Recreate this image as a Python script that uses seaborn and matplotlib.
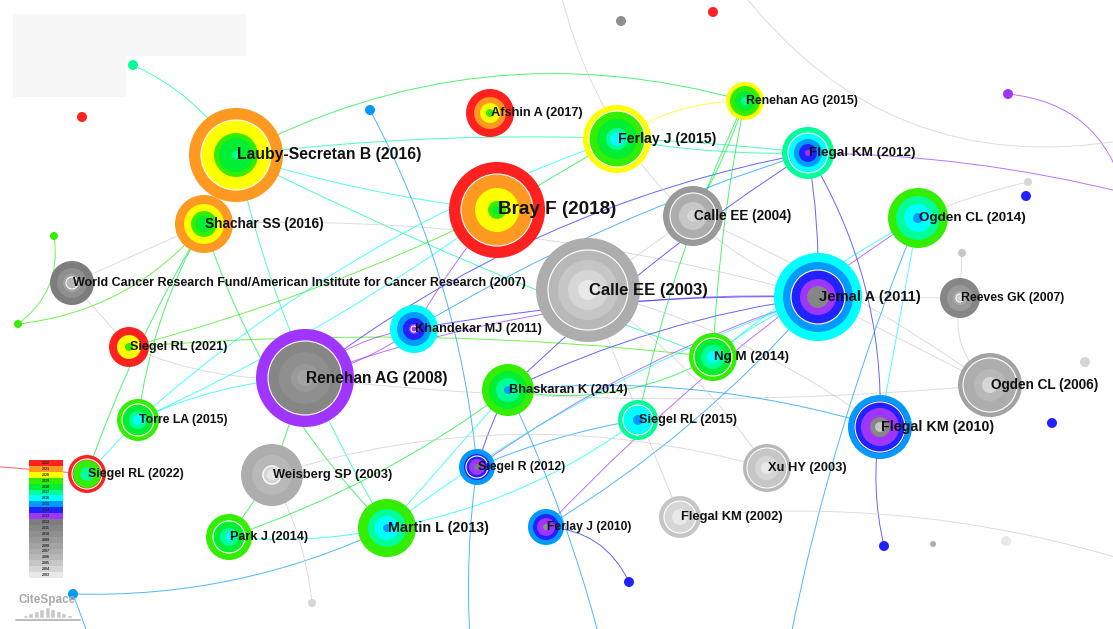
import numpy as np
import pandas as pd
import matplotlib.pyplot as plt
from matplotlib.colors import ListedColormap
from matplotlib.patches import Rectangle
import seaborn as sns

# ---- time slices (legend) ----
legend_years = list(range(2022, 2002, -1))
legend_colors = ['#ff2020', '#ff9922', '#ffff00', '#33ee00', '#00ee33', '#00ff99', '#00ffff',
                 '#0099ff', '#2222ff', '#a035ff',
                 '#7d7d7d', '#868686', '#8f8f8f', '#999999', '#a3a3a3', '#adadad', '#b8b8b8',
                 '#c6c6c6', '#d6d6d6', '#e8e8e8']
year_color = dict(zip(legend_years, legend_colors))

# ---- labelled references ----
labels = ['Lauby-Secretan B (2016)', 'Bray F (2018)', 'Calle EE (2003)', 'Renehan AG (2008)',
          'Jemal A (2011)', 'Flegal KM (2010)', 'Ogden CL (2006)', 'Reeves GK (2007)',
          'Ogden CL (2014)', 'Calle EE (2004)', 'Flegal KM (2012)', 'Renehan AG (2015)',
          'Ferlay J (2015)', 'Afshin A (2017)', 'Shachar SS (2016)',
          'World Cancer Research Fund/American Institute for Cancer Research (2007)',
          'Siegel RL (2021)', 'Khandekar MJ (2011)', 'Ng M (2014)', 'Bhaskaran K (2014)',
          'Siegel RL (2015)', 'Torre LA (2015)', 'Siegel RL (2022)', 'Weisberg SP (2003)',
          'Siegel R (2012)', 'Martin L (2013)', 'Park J (2014)', 'Ferlay J (2010)',
          'Xu HY (2003)', 'Flegal KM (2002)']
node_x = [236, 497, 588, 305, 818, 880, 990, 960, 918, 693, 808, 745, 617, 490, 204,
          72, 129, 414, 713, 508, 638, 138, 87, 272, 477, 387, 229, 546, 767, 680]
node_y = [155, 210, 290, 378, 297, 427, 385, 298, 218, 216, 153, 101, 139, 113, 224,
          283, 347, 329, 357, 390, 420, 420, 474, 475, 467, 528, 537, 527, 468, 517]
ring_years = [
    [2021, 2020, 2019, 2018, 2017], [2022, 2021, 2020, 2019, 2018],
    [2007, 2006, 2005, 2004, 2003], [2013, 2011, 2010, 2009, 2008],
    [2016, 2015, 2014, 2013, 2011], [2015, 2014, 2013, 2011, 2005],
    [2008, 2007, 2006, 2004], [2011, 2009, 2007, 2004],
    [2019, 2017, 2016, 2015], [2009, 2007, 2005, 2004],
    [2017, 2016, 2015, 2014, 2013], [2020, 2019, 2018, 2017],
    [2020, 2019, 2018, 2017, 2016], [2022, 2021, 2020, 2019],
    [2021, 2020, 2019, 2018], [2012, 2010, 2008, 2006],
    [2022, 2020, 2019], [2016, 2015, 2014, 2013],
    [2019, 2018, 2017, 2016], [2019, 2018, 2017, 2015],
    [2017, 2016, 2015], [2019, 2018, 2017, 2016],
    [2022, 2019, 2017], [2007, 2006, 2004, 2003],
    [2015, 2014, 2013, 2012], [2019, 2017, 2016, 2015],
    [2019, 2018, 2017, 2016], [2015, 2014, 2013, 2010],
    [2006, 2005, 2004, 2003], [2005, 2004, 2003]]
ring_radii = [
    [47, 35, 22, 17, 4], [48, 36, 22, 9, 4],
    [52, 40, 30, 20, 10], [49, 37, 26, 14, 8],
    [44, 35, 27, 18, 11], [32, 26, 19, 10, 5],
    [32, 27, 16, 8], [20, 13, 7, 3],
    [30, 22, 14, 5], [30, 23, 14, 6],
    [26, 20, 14, 9, 3], [19, 15, 10, 4],
    [34, 28, 20, 11, 7], [24, 16, 10, 4],
    [29, 20, 13, 8], [22, 15, 9, 5],
    [20, 12, 4], [24, 17, 11, 5],
    [24, 18, 12, 6], [26, 19, 12, 4],
    [20, 14, 5], [21, 15, 9, 5],
    [19, 14, 7], [31, 20, 10, 5],
    [18, 13, 8, 3], [29, 19, 12, 4],
    [23, 16, 9, 4], [18, 13, 9, 3],
    [24, 19, 12, 6], [21, 16, 8]]
white_ring = [35, 36, 40, 37, 27, 25, 27, 4, 0, 23, 20, 0, 28, 0, 0,
              6, 0, 3, 19, 0, 15, 16, 15, 9, 11, 0, 16, 0, 20, 16]
label_pt = [11.3, 13.6, 12.0, 11.2, 10.7, 10.3, 9.8, 8.8, 9.7, 9.8, 9.7, 8.8, 10.2, 9.2, 9.8,
            9.0, 9.1, 9.2, 9.6, 9.2, 9.2, 8.8, 8.9, 9.3, 8.8, 10.3, 9.1, 8.7, 9.3, 9.3]

# ---- unlabelled small references ----
dot_ids = ['d%d' % i for i in range(19)]
dot_x = [133, 82, 370, 621, 713, 1008, 1028, 1026, 962, 1085, 1052, 884, 933, 1006, 629, 54, 18, 312, 73]
dot_y = [65, 117, 110, 21, 12, 94, 182, 196, 253, 362, 423, 546, 544, 541, 582, 236, 324, 603, 594]
dot_year = [2017, 2022, 2015, 2010, 2022, 2013, 2004, 2014, 2005, 2004, 2014, 2014, 2007, 2003, 2014,
            2019, 2019, 2004, 2015]
dot_r = [5, 5, 5, 5, 5, 5, 4, 5, 4, 5, 5, 5, 3, 5, 5, 4, 4, 4, 5]

# link ends lying outside the visible window
off_ids = ['o%d' % i for i in range(12)]
off_x = [1125, 1125, 560, 740, 1125, -10, 90, 470, 600, 790, 1125, 1125]
off_y = [193, 195, -10, -10, 140, 466, 640, 640, 640, 640, 560, 470]

# ---- co-citation links: source, target, year, curvature ----
L = labels
links = [
    ('d0', L[0], 2017, -0.15), (L[0], L[11], 2018, -0.2), (L[0], L[10], 2017, -0.06),
    (L[0], L[1], 2016, 0.05), (L[0], L[18], 2017, 0.03), (L[0], L[25], 2017, 0.08),
    (L[14], L[15], 2009, 0.0), (L[14], 'd16', 2019, -0.2), ('d15', 'd16', 2019, -0.3),
    (L[14], L[21], 2018, 0.1), (L[14], L[22], 2018, 0.05), (L[14], L[25], 2018, 0.12),
    (L[14], L[4], 2009, -0.08), (L[15], L[16], 2009, 0.0), (L[16], L[3], 2009, 0.12),
    (L[16], L[18], 2019, -0.05), (L[3], L[17], 2013, -0.15), (L[3], L[17], 2013, 0.1),
    (L[3], L[4], 2013, -0.1), (L[3], L[10], 2014, -0.12), (L[3], L[21], 2016, 0.1),
    (L[3], L[23], 2018, 0.0), (L[3], L[6], 2008, 0.05), (L[21], L[22], 2016, 0.0),
    (L[21], L[1], 2016, 0.05), (L[26], L[25], 2016, 0.08), (L[26], L[19], 2018, 0.08),
    (L[26], L[23], 2018, 0.0), (L[25], L[20], 2016, 0.12), (L[25], L[19], 2016, 0.0),
    (L[25], 'd18', 2015, -0.12), (L[19], L[24], 2014, 0.05), (L[19], L[18], 2018, 0.18),
    (L[19], L[4], 2014, -0.08), (L[24], L[4], 2013, -0.08), (L[24], L[20], 2015, -0.06),
    (L[27], 'd14', 2014, -0.3), (L[27], L[4], 2015, 0.08), (L[27], L[8], 2013, -0.06),
    (L[12], L[11], 2020, -0.15), (L[12], L[10], 2017, 0.05), (L[12], L[1], 2018, 0.0),
    (L[9], L[2], 2008, 0.0), (L[9], L[6], 2008, -0.05), (L[9], L[11], 2018, 0.05),
    (L[4], L[10], 2014, 0.05), (L[10], L[5], 2014, -0.15), (L[4], L[6], 2008, 0.0),
    (L[4], L[7], 2008, 0.0), (L[10], 'o0', 2013, -0.06), ('d5', 'o1', 2013, -0.35),
    (L[8], L[5], 2016, 0.0), (L[8], L[18], 2016, 0.05), (L[5], 'd11', 2014, 0.1),
    (L[5], L[19], 2015, 0.1), (L[28], L[2], 2005, 0.1), (L[29], L[2], 2005, 0.0),
    ('d2', L[24], 2015, -0.1), ('o2', L[4], 2010, 0.25), ('o3', 'o4', 2006, 0.3),
    (L[7], L[6], 2005, 0.3), (L[22], 'o5', 2022, 0.0), ('d18', 'o6', 2015, 0.0),
    (L[24], 'o7', 2015, 0.05), (L[19], 'o8', 2015, -0.05), (L[8], 'o9', 2015, 0.05),
    (L[29], 'o10', 2006, -0.1), (L[23], L[28], 2005, -0.15), (L[23], 'd17', 2004, -0.1),
    (L[7], 'd8', 2005, 0.0), (L[1], L[17], 2013, 0.05), (L[17], L[4], 2014, -0.05),
    (L[11], L[18], 2018, 0.04), (L[11], L[20], 2018, 0.06), (L[10], L[17], 2015, 0.06),
    (L[10], L[19], 2014, 0.05), (L[4], L[25], 2016, 0.08), (L[4], L[18], 2016, 0.1),
    (L[2], L[5], 2006, -0.1), (L[12], L[21], 2016, 0.1), ('d6', L[8], 2005, 0.05),
    (L[1], L[16], 2019, -0.05),
]

# ---- figure ----
sns.set_style('white')
plt.rcParams['font.family'] = ['Liberation Sans', 'DejaVu Sans']
fig = plt.figure(figsize=(11.13, 6.29), dpi=100)
ax = fig.add_axes([0, 0, 1, 1])

ax.add_patch(Rectangle((13, 14), 233, 42, color='#f7f7f7', lw=0, zorder=0))
ax.add_patch(Rectangle((13, 56), 113, 41, color='#f7f7f7', lw=0, zorder=0))

pos = {k: (x, y) for k, x, y in zip(labels, node_x, node_y)}
pos.update({k: (x, y) for k, x, y in zip(dot_ids, dot_x, dot_y)})
pos.update({k: (x, y) for k, x, y in zip(off_ids, off_x, off_y)})

for src, dst, yr, rad in links:
    c = year_color[yr] if yr >= 2013 else '#cdcdcd'
    ax.annotate('', xy=pos[dst], xytext=pos[src], xycoords='data', zorder=1,
                annotation_clip=False,
                arrowprops=dict(arrowstyle='-', color=c, lw=0.7, alpha=0.7,
                                shrinkA=0, shrinkB=0, connectionstyle='arc3,rad=%s' % rad))

# rings: one row per tree ring, outer ones first
rows = []
for lab, x, y, yrs, rads in zip(labels, node_x, node_y, ring_years, ring_radii):
    for yr, r in zip(yrs, rads):
        rows.append(dict(node=lab, x=x, y=y, year=yr, r=r))
for k, x, y, yr, r in zip(dot_ids, dot_x, dot_y, dot_year, dot_r):
    rows.append(dict(node=k, x=x, y=y, year=yr, r=r))
rings = pd.DataFrame(rows)
px2pt = 72 / fig.dpi
rings['s'] = (2 * rings['r'] * px2pt) ** 2

sns.scatterplot(data=rings, x='x', y='y', hue='year', palette=year_color,
                size='s', sizes={v: v for v in rings['s'].unique()},
                linewidth=0, legend=False, ax=ax, zorder=3)

wr = [(x, y, r) for x, y, r in zip(node_x, node_y, white_ring) if r > 0]
ax.scatter([w[0] for w in wr], [w[1] for w in wr], s=[(2 * w[2] * px2pt) ** 2 for w in wr],
           facecolors='none', edgecolors='white', linewidths=0.8, zorder=4)

for lab, x, y, fs in zip(labels, node_x, node_y, label_pt):
    ax.text(x + 1, y, lab, fontsize=fs, fontweight='bold', color='#111111',
            ha='left', va='center', zorder=6)

ax.set_xlim(0, 1113)
ax.set_ylim(629, 0)
ax.axis('off')

# ---- year legend ----
lax = fig.add_axes([29 / 1113, (629 - 578) / 629, 34 / 1113, 118 / 629])
sns.heatmap(np.arange(len(legend_years)).reshape(-1, 1), cmap=ListedColormap(legend_colors),
            annot=np.array(legend_years).reshape(-1, 1), fmt='d', cbar=False,
            annot_kws=dict(fontsize=2.6, color='#222222', fontweight='bold'),
            xticklabels=False, yticklabels=False, ax=lax)
lax.axis('off')

# ---- CiteSpace logo ----
ax.text(47, 600, 'CiteSpace', fontsize=8.5, fontweight='bold', color='#a9a9a9',
        ha='center', va='center', zorder=6)
logo_steps = [3, 5, 7, 9, 11, 9, 7, 5, 3]
logo_x = 47 + (np.arange(len(logo_steps)) - 4) * 5.5
ax.bar(logo_x, [-h for h in logo_steps], bottom=618, width=5, color='#c8c8c8', zorder=5)
ax.plot([16, 80], [620, 620], color='#b0b0b0', lw=1.2, zorder=5)

fig.savefig('out.png', dpi=100)
